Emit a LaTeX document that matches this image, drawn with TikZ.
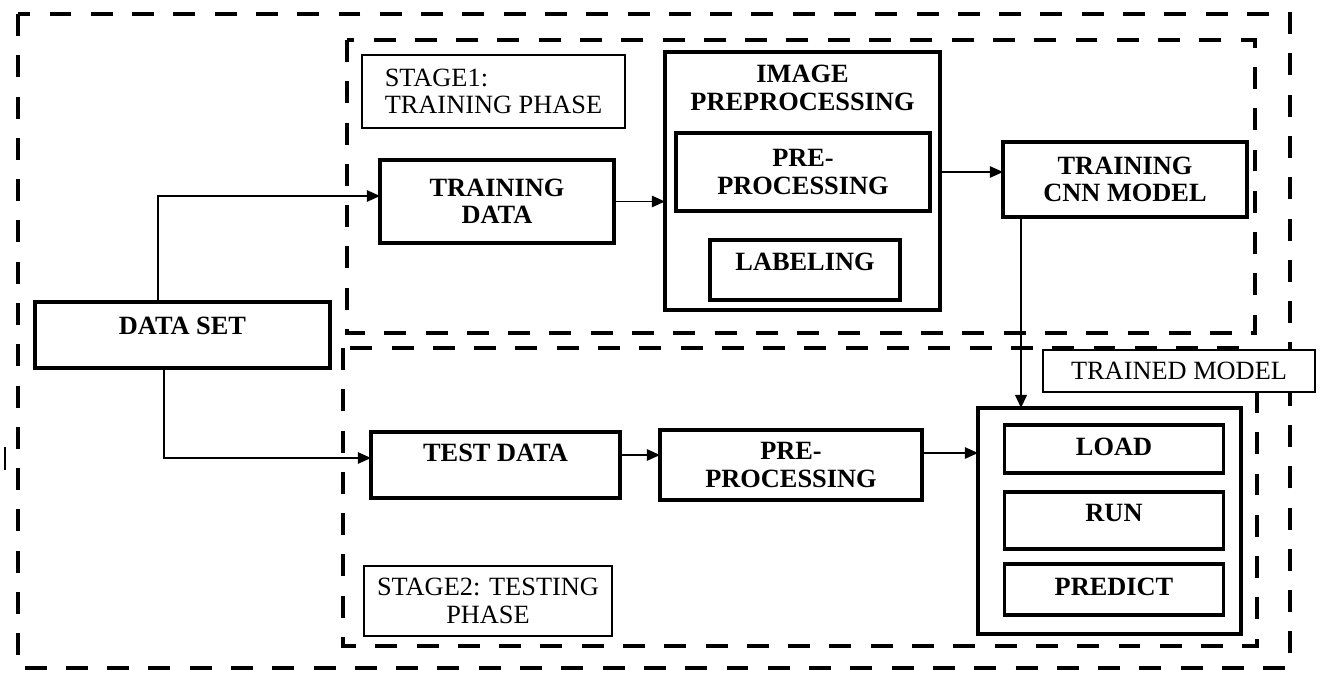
\documentclass[tikz,border=0pt]{standalone}
\usepackage{fontspec}
\setmainfont{Liberation Serif}
\usetikzlibrary{arrows.meta}
\begin{document}
\begin{tikzpicture}[x={(0.02cm,0cm)},y={(0cm,-0.02cm)},
every node/.style={outer sep=0pt, font=\fontsize{15}{15.5}\selectfont},
box/.style={draw, line width=1.8pt, fill=white, align=center, font=\fontsize{15}{15.5}\selectfont\bfseries},
tag/.style={draw, line width=0.8pt, fill=white},
liftup/.style={text depth=#1},
dashfrm/.style={line width=2.8pt, dash pattern=on 12.5pt off 11pt},
conn/.style={line width=0.85pt, -{Triangle[length=7.5pt,width=6.5pt]}}]
\useasboundingbox (0,0) rectangle (1330,676);
% dashed frames
\draw[dashfrm] (18,14) rectangle (1290,668);
\draw[dashfrm] (347,40) rectangle (1255,333);
\draw[dashfrm] (343,348) rectangle (1257,646);
\draw[line width=0.8pt] (5,447) -- (5,470);
% stage 1
\node[tag, minimum width=5.26cm, minimum height=1.46cm, align=left] (stage1) at (493.5,91.5) {STAGE1:\\TRAINING PHASE};
\node[box, minimum width=4.68cm, minimum height=1.66cm] (trdata) at (497,201.5) {TRAINING\\DATA};
\node[box, minimum width=5.5cm, minimum height=5.16cm] (imgpre) at (802.5,181) {};
\node[font=\fontsize{15}{15.5}\selectfont\bfseries, align=center] (imgtitle) at (802.5,88) {IMAGE\\PREPROCESSING};
\node[box, minimum width=5.08cm, minimum height=1.56cm] (prep1) at (803,172) {PRE-\\PROCESSING};
\node[box, minimum width=3.8cm, minimum height=1.2cm, liftup=9pt] (labeling) at (805,270) {LABELING};
\node[box, minimum width=4.88cm, minimum height=1.5cm] (cnn) at (1125,179.5) {TRAINING\\CNN MODEL};
% data set
\node[box, minimum width=5.9cm, minimum height=1.32cm, liftup=11pt] (dataset) at (182.5,335) {DATA SET};
% stage 2
\node[box, minimum width=4.98cm, minimum height=1.32cm, liftup=14pt] (testdata) at (495.5,465) {TEST DATA};
\node[box, minimum width=5.24cm, minimum height=1.4cm] (prep2) at (791,465) {PRE-\\PROCESSING};
\node[box, minimum width=5.26cm, minimum height=4.52cm] (model) at (1109.5,521) {};
\foreach \n/\t/\y/\h/\d in {load/LOAD/449/0.96/2pt, run/RUN/520.5/1.14/9pt, predict/PREDICT/589.5/1.02/3pt}
\node[box, minimum width=4.38cm, minimum height=\h cm, liftup=\d] (\n) at (1114,\y) {\t};
\node[tag, minimum width=5.44cm, minimum height=0.84cm] (trained) at (1179,371) {TRAINED MODEL};
\node[tag, minimum width=4.96cm, minimum height=1.4cm, align=center] (stage2) at (488,601) {STAGE2: TESTING\\PHASE};
% connectors
\coordinate (dsup) at ([xshift=-0.49cm]dataset.north);
\coordinate (dsdown) at ([xshift=-0.37cm]dataset.south);
\coordinate (cnnout) at ([xshift=-2.08cm]cnn.south);
\coordinate (tdout) at ([yshift=0.2cm]testdata.east);
\coordinate (p2out) at ([yshift=0.24cm]prep2.east);
\draw[conn] (dsup) |- ([yshift=0.11cm]trdata.west);
\draw[conn] (dsdown) |- ([yshift=0.14cm]testdata.west);
\draw[conn] (trdata.east) -- (trdata.east -| imgpre.west);
\draw[conn] (prep1 -| imgpre.east) -- (prep1 -| cnn.west);
\draw[conn, line width=1.6pt] (cnnout) -- (cnnout |- model.north);
\draw[conn] (tdout) -- (tdout -| prep2.west);
\draw[conn] (p2out) -- (p2out -| model.west);
\end{tikzpicture}
\end{document}
